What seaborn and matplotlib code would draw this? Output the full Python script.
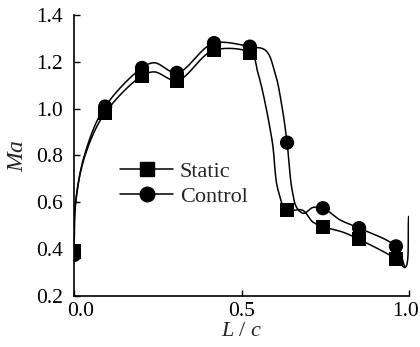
import numpy as np
import pandas as pd
import matplotlib
matplotlib.use("Agg")
import matplotlib.pyplot as plt
import matplotlib.transforms as mtransforms
from matplotlib.lines import Line2D
import seaborn as sns

# ---- data ----
# marker positions
marker_x = [0.0, 0.093, 0.203, 0.307, 0.418, 0.525, 0.636, 0.743, 0.851, 0.961]
static_y = [0.39, 0.982, 1.14, 1.12, 1.25, 1.24, 0.567, 0.496, 0.442, 0.358]
control_y = [0.375, 1.009, 1.174, 1.153, 1.28, 1.265, 0.855, 0.575, 0.49, 0.412]

# traced curve points (the plotted lines)
static_line_x = [0.0, 0.005, 0.033, 0.093, 0.203, 0.24, 0.307, 0.418, 0.525,
                 0.549, 0.591, 0.609, 0.636, 0.681, 0.713, 0.743, 0.80, 0.851,
                 0.961, 0.988, 0.999]
static_line_y = [0.39, 0.60, 0.80, 0.982, 1.14, 1.157, 1.12, 1.25, 1.24,
                 1.153, 0.867, 0.653, 0.567, 0.567, 0.516, 0.496, 0.474, 0.442,
                 0.358, 0.322, 0.54]
control_line_x = [0.0, 0.005, 0.033, 0.093, 0.203, 0.24, 0.307, 0.418, 0.525,
                  0.570, 0.60, 0.621, 0.636, 0.651, 0.666, 0.686, 0.713, 0.743,
                  0.794, 0.851, 0.961, 0.988]
control_line_y = [0.375, 0.60, 0.81, 1.009, 1.174, 1.196, 1.153, 1.28, 1.265,
                  1.251, 1.153, 1.008, 0.855, 0.653, 0.575, 0.553, 0.578, 0.575,
                  0.525, 0.49, 0.412, 0.322]

series_names = ["Static", "Control"]
x_ticks = [0.0, 0.5, 1.0]
y_ticks = [0.2, 0.4, 0.6, 0.8, 1.0, 1.2, 1.4]


def catmull_rom(xs, ys, n=20, alpha=0.5):
    P = np.column_stack([xs, ys]).astype(float)
    P = np.vstack([2 * P[0] - P[1], P, 2 * P[-1] - P[-2]])
    out = []
    for i in range(1, len(P) - 2):
        p0, p1, p2, p3 = P[i - 1], P[i], P[i + 1], P[i + 2]
        def tj(ti, a, b):
            return ti + max(np.hypot(*(b - a)), 1e-9) ** alpha
        t0 = 0.0
        t1 = tj(t0, p0, p1)
        t2 = tj(t1, p1, p2)
        t3 = tj(t2, p2, p3)
        t = np.linspace(t1, t2, n, endpoint=False)[:, None]
        A1 = (t1 - t) / (t1 - t0) * p0 + (t - t0) / (t1 - t0) * p1
        A2 = (t2 - t) / (t2 - t1) * p1 + (t - t1) / (t2 - t1) * p2
        A3 = (t3 - t) / (t3 - t2) * p2 + (t - t2) / (t3 - t2) * p3
        B1 = (t2 - t) / (t2 - t0) * A1 + (t - t0) / (t2 - t0) * A2
        B2 = (t3 - t) / (t3 - t1) * A2 + (t - t1) / (t3 - t1) * A3
        C = (t2 - t) / (t2 - t1) * B1 + (t - t1) / (t2 - t1) * B2
        out.append(C)
    out.append(P[-2][None, :])
    C = np.vstack(out)
    return C[:, 0], C[:, 1]


sns.set_theme(style="ticks")
plt.rcParams["font.family"] = ["Liberation Serif", "DejaVu Serif"]
plt.rcParams["mathtext.fontset"] = "custom"
plt.rcParams["mathtext.it"] = "Liberation Serif:italic"
plt.rcParams["mathtext.rm"] = "Liberation Serif"

fig = plt.figure(figsize=(4.2, 3.47), dpi=100)
ax = fig.add_axes([74 / 420, 1 - 296 / 347, 335 / 420, 281 / 347])

sx, sy = catmull_rom(static_line_x, static_line_y)
cx, cy = catmull_rom(control_line_x, control_line_y)
df_s = pd.DataFrame({"x": sx, "y": sy})
df_c = pd.DataFrame({"x": cx, "y": cy})
sns.lineplot(data=df_s, x="x", y="y", sort=False, estimator=None, color="black",
             linewidth=1.1, ax=ax)
sns.lineplot(data=df_c, x="x", y="y", sort=False, estimator=None, color="black",
             linewidth=1.1, ax=ax)

dm = pd.DataFrame({"x": marker_x + marker_x,
                   "y": static_y + control_y,
                   "series": [series_names[0]] * len(marker_x) + [series_names[1]] * len(marker_x)})
sns.scatterplot(data=dm, x="x", y="y", style="series", markers={"Static": "s", "Control": "o"},
                color="black", s=105, edgecolor="black", linewidth=0, legend=False, ax=ax,
                zorder=5)

ax.set_xlim(0, 1.0)
ax.set_ylim(0.2, 1.4)
ax.set_xticks(x_ticks)
ax.set_xticklabels(["0.0", "0.5", "1.0"])
ax.set_yticks(y_ticks)
ax.set_yticklabels([f"{v:.1f}" for v in y_ticks])
ax.tick_params(direction="in", length=4, width=1.0, labelsize=15.5, colors="black")
ax.tick_params(axis="y", pad=8)
ax.tick_params(axis="x", pad=4)
for s in ["top", "right"]:
    ax.spines[s].set_visible(False)
for s in ["left", "bottom"]:
    ax.spines[s].set_linewidth(1.2)
    ax.spines[s].set_color("black")

labs = ax.get_xticklabels()
labs[0].set_transform(labs[0].get_transform() + mtransforms.ScaledTranslation(7 / 100, 0, fig.dpi_scale_trans))
labs[-1].set_transform(labs[-1].get_transform() + mtransforms.ScaledTranslation(-3 / 100, 0, fig.dpi_scale_trans))

ax.set_xlabel(r"$\mathit{L}\ \mathrm{/}\ \mathit{c}$", fontsize=16, labelpad=1)
ax.set_ylabel(r"$\mathit{Ma}$", fontsize=17, labelpad=6)

handles = [Line2D([], [], color="black", lw=1.1, marker="s", ms=10, mec="black"),
           Line2D([], [], color="black", lw=1.1, marker="o", ms=10.5, mec="black")]
ax.legend(handles, series_names, loc="center left", bbox_to_anchor=(0.137, 0.399),
          frameon=False, fontsize=16, handlelength=2.4, handletextpad=0.3,
          labelspacing=0.2, borderpad=0.0, borderaxespad=0.0)

fig.savefig("out.png", dpi=100)
